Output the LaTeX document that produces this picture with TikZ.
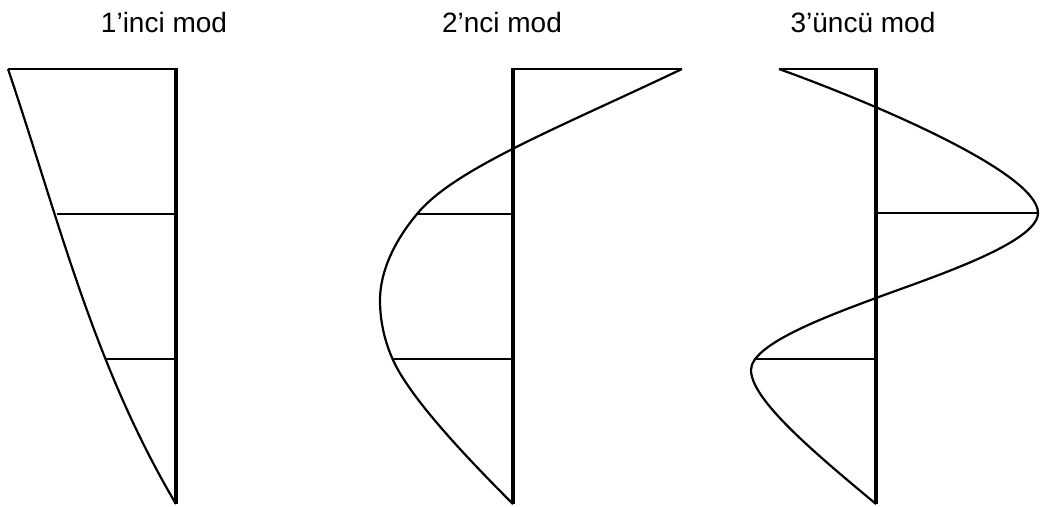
\documentclass[tikz,border=0pt]{standalone}
\usepackage{fontspec}
\setmainfont{Liberation Sans}
\begin{document}
\begin{tikzpicture}[x=1pt,y=-1pt,
  axisline/.style={line width=3.2pt},
  modecurve/.style={line width=2.2pt, line join=round},
  levelline/.style={line width=2.2pt},
  title/.style={font=\fontsize{28}{32}\selectfont, anchor=base, inner sep=0pt}]
\useasboundingbox (0,0) rectangle (1040,506);
% titles
\node[title] (t1) at (164,32) {1’inci mod};
\node[title] (t2) at (502,32) {2’nci mod};
\node[title] (t3) at (863,32) {3’üncü mod};
% mode 1
\draw[axisline] (176,68) -- (176,504);
\draw[levelline] (8,69) -- (176,69);
\draw[levelline] (57,214) -- (176,214);
\draw[levelline] (105,359) -- (176,359);
\draw[modecurve] (8,69) .. controls (58.7,219) and (93,364) .. (176,504);
% mode 2
\draw[axisline] (513,68) -- (513,504);
\draw[levelline] (513,69) -- (682,69);
\draw[levelline] (417,214) -- (513,214);
\draw[levelline] (393,359) -- (513,359);
\draw[modecurve] (682,69) .. controls (556,129) and (454,169) .. (417,214)
  .. controls (396,239) and (380,270) .. (380,300)
  .. controls (380,320) and (384,340) .. (393,360)
  .. controls (411,400) and (473,464) .. (513,504);
% mode 3
\draw[axisline] (876,68) -- (876,504);
\draw[levelline] (779,69) -- (876,69);
\draw[levelline] (876,213) -- (1038,213);
\draw[levelline] (754,359) -- (876,359);
\draw[modecurve] (779,69) .. controls (876,104) and (1038,173) .. (1038,213)
  .. controls (1038,243) and (930,278) .. (876,298)
  .. controls (822,318) and (751,345) .. (751,370)
  .. controls (751,400) and (816,454) .. (876,504);
\end{tikzpicture}
\end{document}
